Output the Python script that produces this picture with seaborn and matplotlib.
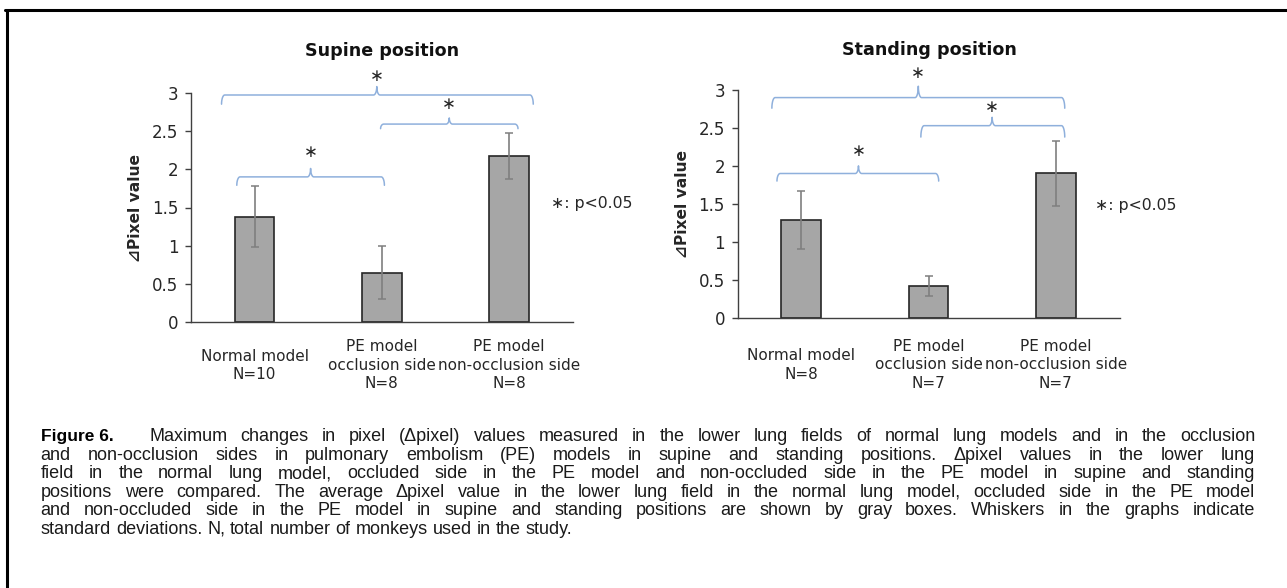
import numpy as np
import pandas as pd
import matplotlib
matplotlib.use("Agg")
import matplotlib.pyplot as plt
import seaborn as sns
from matplotlib.lines import Line2D

# ---------------- data ----------------
categories = ["Normal model", "PE model\nocclusion side", "PE model\nnon-occlusion side"]
supine_n = [10, 8, 8]
standing_n = [8, 7, 7]
supine_mean = [1.38, 0.65, 2.17]
supine_sd = [0.40, 0.35, 0.30]
standing_mean = [1.29, 0.42, 1.90]
standing_sd = [0.38, 0.13, 0.43]
y_ticks = [0, 0.5, 1, 1.5, 2, 2.5, 3]
y_tick_labels = ["0", "0.5", "1", "1.5", "2", "2.5", "3"]
titles = ["Supine position", "Standing position"]
y_label = "\u22bfPixel value"
sig_star = "\u2217"
sig_note = "\u2217: p<0.05"

caption_head = "Figure 6."
caption_lines = [
    "Maximum changes in pixel (\u0394pixel) values measured in the lower lung fields of normal lung models and in the occlusion",
    "and non-occlusion sides in pulmonary embolism (PE) models in supine and standing positions. \u0394pixel values in the lower lung",
    "field in the normal lung model, occluded side in the PE model and non-occluded side in the PE model in supine and standing",
    "positions were compared. The average \u0394pixel value in the lower lung field in the normal lung model, occluded side in the PE model",
    "and non-occluded side in the PE model in supine and standing positions are shown by gray boxes. Whiskers in the graphs indicate",
    "standard deviations. N, total number of monkeys used in the study.",
]

# significance braces: (x_left, x_right, x_mid, y_line, y_end, y_peak, y_star)
supine_braces = [
    (-0.26, 2.19, 0.96, 2.97, 2.85, 3.08, 3.22),
    (0.99, 2.07, 1.53, 2.59, 2.53, 2.67, 2.85),
    (-0.14, 1.02, 0.44, 1.90, 1.79, 2.01, 2.23),
]
standing_braces = [
    (-0.23, 2.07, 0.92, 2.90, 2.76, 3.05, 3.23),
    (0.94, 2.07, 1.50, 2.53, 2.38, 2.64, 2.78),
    (-0.19, 1.08, 0.45, 1.90, 1.80, 2.00, 2.19),
]

# ---------------- style ----------------
sns.set_style("white")
plt.rcParams["font.family"] = ["DejaVu Sans"]

W, H = 1287, 588
fig = plt.figure(figsize=(W / 100, H / 100), dpi=100)
fig.patch.set_facecolor("white")


def px(x, y):
    return x / W, 1 - y / H


BAR = "#a6a6a6"
EDGE = "#262626"
AXC = "#404040"
BRACE = "#8fb0dc"


def brace(ax, x0, x1, xm, yl, ye, yp, ys):
    t = np.linspace(0, np.pi / 2, 12)
    dx = 0.025
    xs, ys_ = [], []
    xs += list(x0 + dx * (1 - np.cos(t)))
    ys_ += list(ye + (yl - ye) * np.sin(t))
    xs += list(xm - dx + dx * np.sin(t))
    ys_ += list(yl + (yp - yl) * (1 - np.cos(t)))
    xs += list(xm + dx - dx * np.cos(t))
    ys_ += list(yp - (yp - yl) * np.sin(t))
    xs += list(x1 - dx + dx * np.sin(t))
    ys_ += list(yl - (yl - ye) * (1 - np.cos(t)))
    ax.plot(xs, ys_, color=BRACE, lw=1.1, clip_on=False, solid_joinstyle="round")
    ax.text(xm, ys, sig_star, ha="center", va="center", fontsize=12,
            color="#262626", clip_on=False)


panels = [
    dict(rect=[191, 322.3, 381.7, 229.6], mean=supine_mean, sd=supine_sd, n=supine_n,
         title=titles[0], title_xy=(382, 51), braces=supine_braces,
         xpad=31.0, note_xy=(2.33, 1.55)),
    dict(rect=[737.5, 317.7, 382.0, 227.7], mean=standing_mean, sd=standing_sd, n=standing_n,
         title=titles[1], title_xy=(929, 50), braces=standing_braces,
         xpad=34.0, note_xy=(2.31, 1.48)),
]

for p in panels:
    left, bottom, width, height = p["rect"]
    ax = fig.add_axes([left / W, 1 - bottom / H, width / W, height / H])
    labels = [f"{c}\nN={n}" for c, n in zip(categories, p["n"])]
    df = pd.DataFrame({"group": labels, "value": p["mean"]})
    sns.barplot(data=df, x="group", y="value", ax=ax, color=BAR, saturation=1,
                edgecolor=EDGE, linewidth=1.2, width=0.31, errorbar=None)
    ax.errorbar(np.arange(len(labels)), p["mean"], yerr=p["sd"], fmt="none",
                ecolor="#7f7f7f", elinewidth=1.2, capsize=3, capthick=1.1, zorder=5)
    ax.set_xlim(-0.5, 2.5)
    ax.set_ylim(0, 3)
    ax.set_yticks(y_ticks)
    ax.set_yticklabels(y_tick_labels)
    ax.set_xticks(range(len(labels)))
    ax.set_xticklabels(labels, fontsize=11, va="center", linespacing=1.29, color="#262626")
    ax.tick_params(axis="x", length=0, pad=p["xpad"])
    ax.tick_params(axis="y", length=4, width=1, color=AXC, labelsize=12,
                   labelcolor="#262626", pad=5, left=True)
    for s in ["top", "right"]:
        ax.spines[s].set_visible(False)
    for s in ["left", "bottom"]:
        ax.spines[s].set_color(AXC)
        ax.spines[s].set_linewidth(1.0)
    ax.set_xlabel("")
    ax.set_ylabel(y_label, fontsize=11.2, fontweight="bold", va="center", color="#262626")
    ax.yaxis.set_label_coords(-55 / width, 0.5)
    for b in p["braces"]:
        brace(ax, *b)
    ax.text(p["note_xy"][0], p["note_xy"][1], sig_note, ha="left", va="center",
            fontsize=11.3, color="#262626", clip_on=False)
    fig.text(*px(*p["title_xy"]), p["title"], ha="center", va="center",
             fontsize=12.6, fontweight="bold", color="#111111")

# ---------------- border ----------------
fig.add_artist(Line2D([5 / W, 1], [1 - 10 / H, 1 - 10 / H], color="black", lw=2.2,
                      transform=fig.transFigure))
fig.add_artist(Line2D([7 / W, 7 / W], [1 - 10 / H, 0], color="black", lw=2.2,
                      transform=fig.transFigure))

# ---------------- caption (justified) ----------------
renderer = fig.canvas.get_renderer()
cap_fs = 13.0
cap_family = ["Liberation Sans"]
cap_left, cap_right = 40.7, 1255.0
baselines = [441, 459.6, 478.2, 496.8, 515.4, 534]

head = fig.text(*px(cap_left, baselines[0]), caption_head, fontsize=12.5, fontweight="bold",
                family=cap_family, va="baseline", ha="left", color="black")
sp = fig.text(0, 0, "a a", fontsize=cap_fs, family=cap_family)
sp2 = fig.text(0, 0, "aa", fontsize=cap_fs, family=cap_family)
space_w = sp.get_window_extent(renderer).width - sp2.get_window_extent(renderer).width
sp.remove()
sp2.remove()

for i, line in enumerate(caption_lines):
    x0 = 149.3 if i == 0 else cap_left
    y = baselines[i]
    words = line.split(" ")
    texts = [fig.text(0, 0, w, fontsize=cap_fs, family=cap_family, va="baseline",
                      ha="left", color="#1a1a1a") for w in words]
    widths = [t.get_window_extent(renderer).width for t in texts]
    if i < len(caption_lines) - 1:
        gap = (cap_right - x0 - sum(widths)) / (len(words) - 1)
    else:
        gap = space_w
    x = x0
    for t, w in zip(texts, widths):
        t.set_position(px(x, y))
        x += w + gap

fig.savefig("out.png", dpi=100, facecolor="white")
